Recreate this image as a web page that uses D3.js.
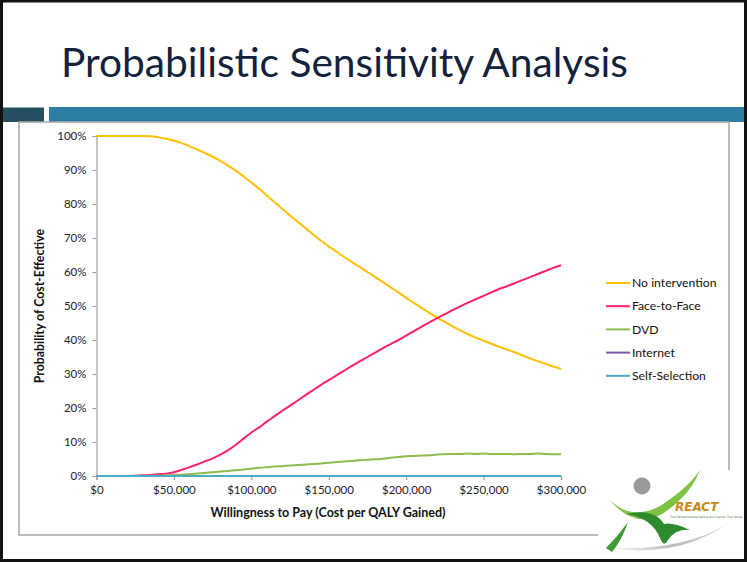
<!DOCTYPE html>
<html>
<head>
<meta charset="utf-8">
<script src="https://cdn.jsdelivr.net/npm/d3@7"></script>
<style>
  html, body { margin: 0; padding: 0; background: #fff; }
  svg { display: block; }
</style>
</head>
<body>
<svg id="slide" width="747" height="562"></svg>
<script>
// Willingness-to-pay thresholds (USD per QALY gained)
const wtp = d3.range(0, 300001, 5000);

// Probability (%) that each strategy is the cost-effective choice at each threshold
const noIntervention = [
  100, 100, 100, 100, 100, 100, 100, 99.9, 99.6, 99.2,
  98.6, 97.9, 97.0, 96.0, 95.0, 93.9, 92.7, 91.3, 89.8, 88.1,
  86.3, 84.5, 82.5, 80.5, 78.6, 76.6, 74.8, 72.9, 71.0, 69.2,
  67.5, 66.0, 64.4, 62.9, 61.5, 60.0, 58.5, 57.0, 55.5, 54.0,
  52.4, 50.9, 49.4, 48.0, 46.6, 45.3, 44.0, 42.8, 41.7, 40.7,
  39.8, 38.9, 38.0, 37.2, 36.4, 35.5, 34.6, 33.8, 33.0, 32.2,
  31.5
];
const faceToFace = [
  0, 0, 0, 0, 0, 0.1, 0.2, 0.3, 0.5, 0.7,
  1.1, 1.8, 2.6, 3.4, 4.3, 5.2, 6.3, 7.6, 9.2, 11.0,
  12.8, 14.3, 16.0, 17.6, 19.2, 20.7, 22.2, 23.8, 25.3, 26.8,
  28.2, 29.6, 31.0, 32.4, 33.7, 35.0, 36.3, 37.6, 38.8, 40.0,
  41.3, 42.6, 43.9, 45.2, 46.4, 47.6, 48.8, 49.9, 51.0, 52.0,
  53.0, 54.0, 55.0, 55.8, 56.7, 57.6, 58.5, 59.4, 60.3, 61.2,
  62.0
];
const dvd = [
  0, 0, 0, 0, 0, 0, 0, 0.05, 0.1, 0.2,
  0.3, 0.4, 0.5, 0.7, 0.9, 1.1, 1.3, 1.5, 1.7, 1.9,
  2.1, 2.4, 2.6, 2.8, 2.9, 3.1, 3.2, 3.4, 3.5, 3.7,
  3.9, 4.1, 4.3, 4.4, 4.6, 4.8, 4.9, 5.1, 5.4, 5.6,
  5.8, 5.9, 6.0, 6.1, 6.3, 6.4, 6.5, 6.5, 6.6, 6.5,
  6.6, 6.5, 6.5, 6.5, 6.4, 6.5, 6.5, 6.6, 6.5, 6.4,
  6.4
];
const internet = wtp.map(() => 0);
const selfSelection = wtp.map(() => 0);

const seriesNames = ["No intervention", "Face-to-Face", "DVD", "Internet", "Self-Selection"];
const seriesColors = ["#FFC000", "#FF1F6A", "#8DBB4C", "#7E5BA6", "#4BACC6"];
const seriesValues = [noIntervention, faceToFace, dvd, internet, selfSelection];

const xTickValues = [0, 50000, 100000, 150000, 200000, 250000, 300000];
const yTickValues = [0, 10, 20, 30, 40, 50, 60, 70, 80, 90, 100];

const svg = d3.select("#slide");
const uiFont = "Lato, 'Open Sans', sans-serif";

// ---- slide frame ----
svg.append("rect").attr("x", 1.5).attr("y", 1).attr("width", 744).attr("height", 559.5)
  .attr("fill", "#fff").attr("stroke", "#111").attr("stroke-width", 3);

// title
const title = svg.append("text")
  .attr("x", 61).attr("y", 77)
  .attr("fill", "#12223d")
  .style("font-family", "Lato, sans-serif")
  .style("font-size", "38px")
  .text("Probabilistic Sensitivity Analysis");
{
  const w = title.node().getComputedTextLength();
  title.style("font-size", (38 * 567 / w).toFixed(2) + "px");
}

// header band
svg.append("rect").attr("x", 3).attr("y", 107.5).attr("width", 41).attr("height", 14.5).attr("fill", "#24505F");
svg.append("rect").attr("x", 49).attr("y", 107).attr("width", 695).attr("height", 15).attr("fill", "#2D7EA3");

// chart frame
svg.append("rect").attr("x", 19).attr("y", 122).attr("width", 710).attr("height", 413)
  .attr("fill", "#fff").attr("stroke", "#A6A6A6").attr("stroke-width", 1.5);

// ---- plot ----
const x = d3.scaleLinear().domain([0, 300000]).range([96.5, 561]);
const y = d3.scaleLinear().domain([0, 100]).range([476, 136]);

const yAxis = svg.append("g").attr("transform", `translate(${x(0)},0)`)
  .call(d3.axisLeft(y).tickValues(yTickValues).tickSize(4).tickPadding(6).tickFormat(d => d + "%"));
const xAxis = svg.append("g").attr("transform", `translate(0,${y(0)})`)
  .call(d3.axisBottom(x).tickValues(xTickValues).tickSize(4).tickPadding(6)
    .tickFormat(d => "$" + d3.format(",")(d)));
[xAxis, yAxis].forEach(a => {
  a.select(".domain").attr("stroke", "#A0A0A0").attr("stroke-width", 1.2);
  a.selectAll(".tick line").attr("stroke", "#A0A0A0").attr("stroke-width", 1.2);
  a.selectAll(".tick text").attr("fill", "#222")
    .style("font-family", uiFont).style("font-size", "11.5px");
});

const line = d3.line().x((d, i) => x(wtp[i])).y(d => y(d)).curve(d3.curveMonotoneX);
svg.append("g").selectAll("path")
  .data(seriesValues)
  .join("path")
  .attr("d", line)
  .attr("fill", "none")
  .attr("stroke", (d, i) => seriesColors[i])
  .attr("stroke-width", 2)
  .attr("stroke-linejoin", "round");

// axis titles
svg.append("text")
  .attr("transform", `translate(44,${(y(0) + y(100)) / 2}) rotate(-90)`)
  .attr("text-anchor", "middle")
  .attr("fill", "#111")
  .style("font-family", uiFont).style("font-size", "12.3px").style("font-weight", "bold")
  .text("Probability of Cost-Effective");
svg.append("text")
  .attr("x", 328).attr("y", 517)
  .attr("text-anchor", "middle")
  .attr("fill", "#111")
  .style("font-family", uiFont).style("font-size", "12.5px").style("font-weight", "bold")
  .text("Willingness to Pay (Cost per QALY Gained)");

// legend
const legend = svg.append("g").selectAll("g")
  .data(seriesNames)
  .join("g")
  .attr("transform", (d, i) => `translate(606,${283 + i * 23.2})`);
legend.append("line").attr("x1", 0).attr("x2", 24)
  .attr("stroke", (d, i) => seriesColors[i]).attr("stroke-width", 2);
legend.append("text").attr("x", 26).attr("dy", "0.35em")
  .attr("fill", "#111")
  .style("font-family", uiFont).style("font-size", "12.2px")
  .text(d => d);

// ---- REACT logo ----
const logo = svg.append("g");
const shadowGrad = svg.append("defs").append("linearGradient").attr("id", "logoShadow")
  .attr("x1", "0").attr("x2", "1");
shadowGrad.append("stop").attr("offset", "0").attr("stop-color", "#fff");
shadowGrad.append("stop").attr("offset", "0.5").attr("stop-color", "#b9b9b9");
shadowGrad.append("stop").attr("offset", "1").attr("stop-color", "#e6e6e6");
logo.append("rect").attr("x", 598).attr("y", 470).attr("width", 145).attr("height", 89).attr("fill", "#fff");
logo.append("path").attr("d", "M606,548 Q690,560 742,512 Q700,552 606,548 Z")
  .attr("fill", "url(#logoShadow)");
logo.append("circle").attr("cx", 642).attr("cy", 486).attr("r", 8.5).attr("fill", "#9a9a9a");
logo.append("path").attr("d", "M608,498 Q630,522 660,506 Q688,488 700,470 Q690,496 662,514 Q634,530 608,498 Z")
  .attr("fill", "#7DC242");
logo.append("path").attr("d", "M626,514 Q652,518 660,538 Q664,548 668,540 Q676,528 690,530 Q672,522 664,524 Q654,508 626,514 Z")
  .attr("fill", "#2E8B2E");
logo.append("path").attr("d", "M606,548 Q618,536 628,522 Q622,540 612,552 Z").attr("fill", "#3E9A35");
logo.append("text").attr("x", 675).attr("y", 511)
  .attr("fill", "#C88A1E").style("font-family", "'DejaVu Sans', sans-serif")
  .style("font-size", "12px").style("font-weight", "bold").style("font-style", "italic")
  .text("REACT");
logo.append("text").attr("x", 670).attr("y", 518)
  .attr("fill", "#4a7a3a").style("font-family", "'DejaVu Sans', sans-serif")
  .style("font-size", "3px")
  .text("The Rehabilitating Eating and Cancer Trial Study");
</script>
</body>
</html>
